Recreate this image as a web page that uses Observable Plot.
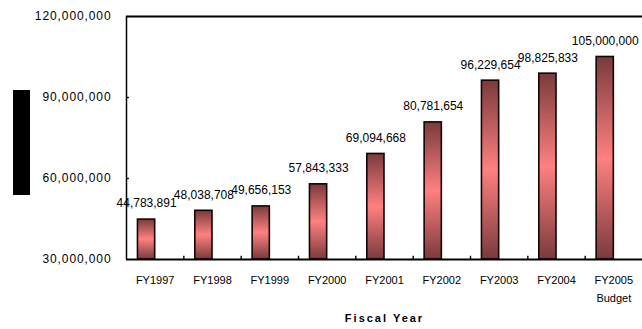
<!DOCTYPE html>
<html>
<head>
<meta charset="utf-8">
<script src="https://cdn.jsdelivr.net/npm/d3@7"></script>
<script src="https://cdn.jsdelivr.net/npm/@observablehq/plot@0.6"></script>
<style>
  html, body { margin: 0; padding: 0; background: #fff; }
  #wrap { position: relative; width: 642px; height: 329px; }
  #ytitle { position: absolute; left: 13px; top: 90px; width: 17px; height: 105px; background: #000; }
  svg g[aria-label="y-axis tick label"] text { letter-spacing: 0.9px; }
</style>
</head>
<body>
<div id="wrap"><div id="ytitle"></div></div>
<script>
// Annual funding by fiscal year
const categories = ["FY1997", "FY1998", "FY1999", "FY2000", "FY2001", "FY2002", "FY2003", "FY2004", "FY2005"];
const subLabels = ["", "", "", "", "", "", "", "", "Budget"];
const funding = [44783891, 48038708, 49656153, 57843333, 69094668, 80781654, 96229654, 98825833, 105000000];
const yTicks = [30000000, 60000000, 90000000, 120000000];
const xTitle = "Fiscal Year";

const yMin = yTicks[0], yMax = yTicks[yTicks.length - 1];
const n = categories.length;
const data = categories.map((c, i) => ({
  i, v: funding[i],
  label: subLabels[i] ? c + "\n" + subLabels[i] : c
}));
const fmt = d3.format(",");

// Shared gradient for the bars: dark at the ends, light pink in the middle
const defs = () => {
  const el = document.createElementNS("http://www.w3.org/2000/svg", "defs");
  el.innerHTML = `
    <linearGradient id="barShade" x1="0" y1="0" x2="0" y2="1">
      <stop offset="0" stop-color="#7a3a3c"/>
      <stop offset="0.5" stop-color="#ff8080"/>
      <stop offset="1" stop-color="#7a3a3c"/>
    </linearGradient>`;
  return el;
};

const chart = Plot.plot({
  width: 642,
  height: 329,
  marginLeft: 126,
  marginRight: 0,
  marginTop: 16,
  marginBottom: 70,
  style: { fontFamily: "'Liberation Sans', Arial, sans-serif", fontSize: "11px", color: "#000", background: "#fff" },
  x: { type: "linear", domain: [0, n], axis: null },
  y: { domain: [yMin, yMax] },
  marks: [
    defs,
    Plot.rect(data, {
      x1: d => d.i + 0.2, x2: d => d.i + 0.5,
      y1: () => yMin, y2: "v",
      fill: "url(#barShade)", stroke: "#140404", strokeWidth: 1.6
    }),
    Plot.axisY(yTicks, { tickSize: 0, tickPadding: 15, tickFormat: fmt, fontSize: 12, label: null }),
    Plot.ruleY(yTicks.slice(1, -1), { x1: () => 0, x2: () => 0.05, strokeWidth: 1.4 }),
    Plot.ruleX(d3.range(1, n), { y1: () => yMin, y2: () => yMin + 1200000, strokeWidth: 1.4 }),
    // plot frame: top edge, left axis, baseline
    Plot.ruleY([yMax], { x1: () => 0, x2: () => n, stroke: "#000", strokeWidth: 2 }),
    Plot.ruleX([0], { y1: () => yMin, y2: () => yMax, stroke: "#000", strokeWidth: 1.5 }),
    Plot.ruleY([yMin], { x1: () => 0, x2: () => n, stroke: "#000", strokeWidth: 2.2 }),
    Plot.text(data, {
      x: d => d.i + 0.35, y: "v", text: d => fmt(d.v),
      dy: -16, fontSize: 12, fill: "#000"
    }),
    Plot.text(data, {
      x: d => d.i + 0.5, y: () => yMin, text: "label",
      lineAnchor: "top", dy: 11, lineHeight: 1.7, fontSize: 11, fill: "#000"
    }),
    Plot.text([xTitle], {
      frameAnchor: "bottom", dy: 62, fontSize: 11, fontWeight: "bold", fill: "#000"
    })
  ]
});

d3.select(chart).selectAll("text")
  .filter(function () { return this.textContent === xTitle; })
  .style("letter-spacing", "2px");

document.getElementById("wrap").appendChild(chart);
</script>
</body>
</html>
